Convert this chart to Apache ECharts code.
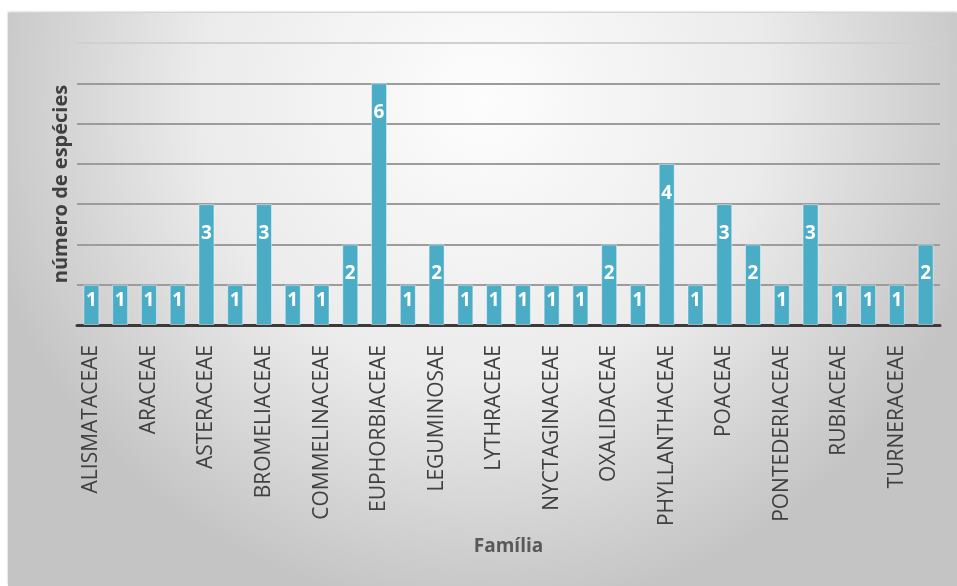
<!DOCTYPE html>
<html>
<head>
<meta charset="utf-8">
<script src="https://cdn.jsdelivr.net/npm/echarts@6/dist/echarts.min.js"></script>
<style>
  html, body { margin: 0; padding: 0; background: #fff; }
  #chart { position: absolute; left: 8px; top: 13px; width: 949px; height: 573px;
           box-shadow: 0 -1px 2px rgba(0,0,0,0.25); }
</style>
</head>
<body>
<div id="chart"></div>
<script>
// familias (só as de índice par aparecem no eixo)
var familias = [
  'ALISMATACEAE', 'AMARANTHACEAE', 'ARACEAE', 'ARALIACEAE', 'ASTERACEAE',
  'BORAGINACEAE', 'BROMELIACEAE', 'CLEOMACEAE', 'COMMELINACEAE', 'CYPERACEAE',
  'EUPHORBIACEAE', 'LAMIACEAE', 'LEGUMINOSAE', 'LOGANIACEAE', 'LYTHRACEAE',
  'MALVACEAE', 'NYCTAGINACEAE', 'ONAGRACEAE', 'OXALIDACEAE', 'PASSIFLORACEAE',
  'PHYLLANTHACEAE', 'PLANTAGINACEAE', 'POACEAE', 'POLYGONACEAE', 'PONTEDERIACEAE',
  'PORTULACACEAE', 'RUBIACEAE', 'SOLANACEAE', 'TURNERACEAE', 'VERBENACEAE'
];
var especies = [1, 1, 1, 1, 3, 1, 3, 1, 1, 2, 6, 1, 2, 1, 1, 1, 1, 1, 2, 1, 4, 1, 3, 2, 1, 3, 1, 1, 1, 2];

var chart = echarts.init(document.getElementById('chart'));

var option = {
  backgroundColor: new echarts.graphic.RadialGradient(0.5, 0.15, 0.9, [
    { offset: 0, color: '#fdfdfd' },
    { offset: 0.55, color: '#ebebeb' },
    { offset: 1, color: '#c4c4c4' }
  ]),
  grid: { left: 69, right: 17, top: 30, bottom: 261 },
  xAxis: {
    type: 'category',
    data: familias,
    name: 'Família',
    nameLocation: 'middle',
    nameGap: 212,
    nameTextStyle: { fontFamily: 'Open Sans', fontWeight: 'bold', fontSize: 19, color: '#595959' },
    axisLine: { lineStyle: { color: '#3a3a3a', width: 3 } },
    axisTick: { show: false },
    axisLabel: {
      interval: 1,
      rotate: 90,
      margin: 20,
      fontFamily: 'Open Sans',
      fontSize: 21,
      color: '#404040'
    }
  },
  yAxis: {
    type: 'value',
    min: 0,
    max: 7,
    interval: 1,
    name: 'número de espécies',
    nameLocation: 'middle',
    nameGap: 6,
    nameTextStyle: { fontFamily: 'Open Sans', fontWeight: 'bold', fontSize: 20, color: '#404040' },
    axisLabel: { show: false },
    axisLine: { show: false },
    axisTick: { show: false },
    splitLine: {
      lineStyle: {
        width: 2,
        color: ['#9c9c9c', '#9c9c9c', '#9c9c9c', '#9c9c9c', '#9c9c9c', '#9c9c9c', '#9c9c9c', '#d0d0d0']
      }
    }
  },
  series: [{
    type: 'bar',
    barWidth: 16,
    itemStyle: { color: '#4bacc6', borderColor: 'rgba(255,255,255,0.45)', borderWidth: 1 },
    label: {
      show: true,
      position: 'insideTop',
      fontFamily: 'Open Sans',
      fontWeight: 'bold',
      fontSize: 19,
      color: '#ffffff'
    },
    data: especies.map(function (v) {
      return { value: v, label: { distance: v === 1 ? 6 : 20 } };
    })
  }]
};

chart.setOption(option);
</script>
</body>
</html>
